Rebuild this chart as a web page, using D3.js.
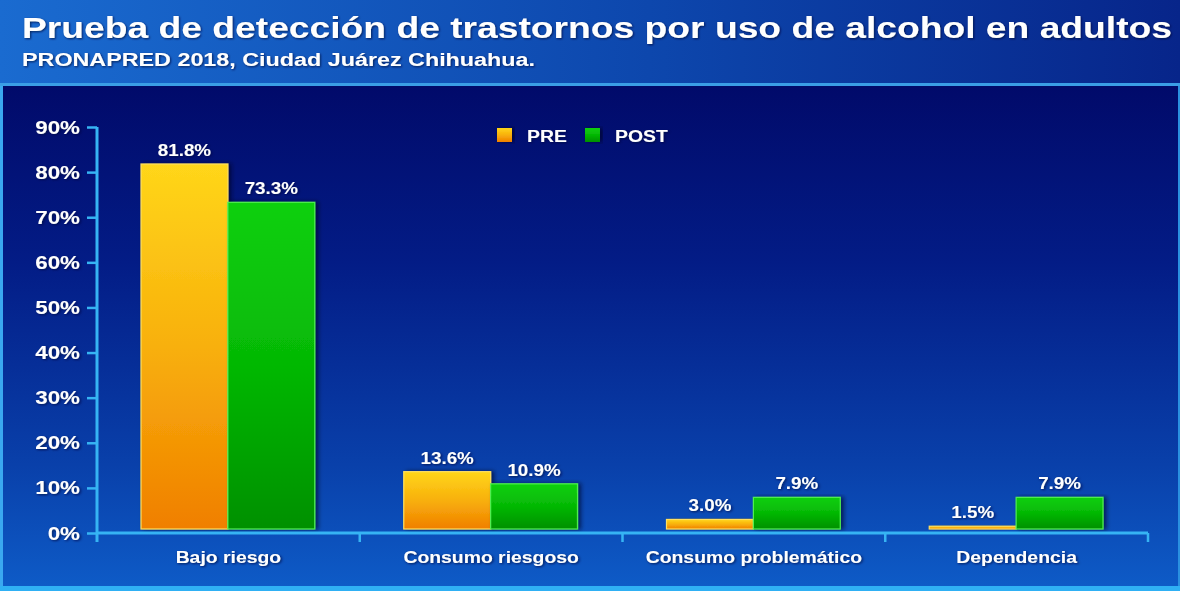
<!DOCTYPE html>
<html>
<head>
<meta charset="utf-8">
<script src="https://cdn.jsdelivr.net/npm/d3@7/dist/d3.min.js"></script>
<style>
  html, body { margin: 0; padding: 0; background: #0a2a90; }
  svg { display: block; font-family: "Liberation Sans", Arial, sans-serif; }
</style>
</head>
<body>
<svg id="chart" width="1180" height="591"></svg>
<script>
// Data
const categories = ["Bajo riesgo", "Consumo riesgoso", "Consumo problemático", "Dependencia"];
const seriesNames = ["PRE", "POST"];
const preValues = [0.818, 0.136, 0.030, 0.015];
const postValues = [0.733, 0.109, 0.079, 0.079];
const yTicks = [0, 0.1, 0.2, 0.3, 0.4, 0.5, 0.6, 0.7, 0.8, 0.9];

const titleText = "Prueba de detección de trastornos por uso de alcohol en adultos";
const subtitleText = "PRONAPRED 2018, Ciudad Juárez Chihuahua.";

const W = 1180, H = 591;
const labelStretch = 1.14;   // wide lettering used by all labels
const tickStretch = 1.28;
const svg = d3.select("#chart");
const defs = svg.append("defs");

// Gradients
function linGrad(id, x1, y1, x2, y2, stops) {
  const g = defs.append("linearGradient").attr("id", id)
    .attr("x1", x1).attr("y1", y1).attr("x2", x2).attr("y2", y2);
  stops.forEach(s => g.append("stop").attr("offset", s[0]).attr("stop-color", s[1]));
}
linGrad("hdr", "0", "0", "1", "0", [[0, "#1a6bd0"], [0.55, "#0d47ad"], [1, "#07258a"]]);
linGrad("panel", "0", "0", "0", "1", [[0, "#010a6a"], [0.35, "#031c86"], [0.75, "#0940aa"], [1, "#0e5cc8"]]);
linGrad("gPRE", "0", "0", "0", "1", [[0, "#ffd61a"], [0.5, "#f8b00c"], [1, "#f07f00"]]);
linGrad("gPOST", "0", "0", "0", "1", [[0, "#10d010"], [0.5, "#05b805"], [1, "#009000"]]);

const glow = defs.append("filter").attr("id", "glow").attr("x", "-10%").attr("y", "-30%").attr("width", "120%").attr("height", "160%");
glow.append("feDropShadow").attr("dx", 1).attr("dy", 1).attr("stdDeviation", 1.2).attr("flood-color", "#000a40").attr("flood-opacity", 0.8);

const shadow = defs.append("filter").attr("id", "barShadow").attr("x", "-10%").attr("y", "-10%").attr("width", "130%").attr("height", "120%");
shadow.append("feDropShadow").attr("dx", 3).attr("dy", 0).attr("stdDeviation", 2).attr("flood-color", "#000020").attr("flood-opacity", 0.6);

// Wide text helper: anchored at (x, y), stretched horizontally
function wideText(sel, x, y, sx, size, anchor, str) {
  return sel.append("text")
    .attr("transform", `translate(${x},${y}) scale(${sx},1)`)
    .attr("text-anchor", anchor)
    .attr("fill", "#ffffff").attr("font-size", size).attr("font-weight", "bold")
    .attr("filter", "url(#glow)")
    .text(str);
}

// Header band
svg.append("rect").attr("x", 0).attr("y", 0).attr("width", W).attr("height", 84).attr("fill", "url(#hdr)");
svg.append("rect").attr("x", 0).attr("y", 83).attr("width", W).attr("height", 3).attr("fill", "#3a9ee6");

// Plot panel
svg.append("rect").attr("x", 0).attr("y", 86).attr("width", W).attr("height", H - 86).attr("fill", "url(#panel)");
svg.append("rect").attr("x", 0).attr("y", 86).attr("width", 3).attr("height", H - 86).attr("fill", "#3aa8f0");
svg.append("rect").attr("x", W - 2).attr("y", 86).attr("width", 2).attr("height", H - 86).attr("fill", "#2a90e0");
svg.append("rect").attr("x", 0).attr("y", H - 5).attr("width", W).attr("height", 5).attr("fill", "#2fb0f4");

// Title
svg.append("text").attr("x", 22).attr("y", 38)
  .attr("fill", "#ffffff").attr("font-size", 29).attr("font-weight", "bold")
  .attr("filter", "url(#glow)")
  .attr("textLength", 1150).attr("lengthAdjust", "spacingAndGlyphs")
  .text(titleText);
svg.append("text").attr("x", 22).attr("y", 66)
  .attr("fill", "#ffffff").attr("font-size", 17.5).attr("font-weight", "bold")
  .attr("filter", "url(#glow)")
  .attr("textLength", 513).attr("lengthAdjust", "spacingAndGlyphs")
  .text(subtitleText);

// Scales
const plotLeft = 97, plotRight = 1148, y0 = 533, yTop = 127;
const y = d3.scaleLinear().domain([0, 0.9]).range([y0, yTop]);
const x0 = d3.scaleBand().domain(categories).range([plotLeft, plotRight]).padding(0);
const x1 = d3.scaleBand().domain(seriesNames).range([44, x0.bandwidth() - 45]).padding(0);

const rows = categories.map((c, i) => ({ cat: c, vals: [
  { key: "PRE", value: preValues[i] },
  { key: "POST", value: postValues[i] }
]}));

// Bars
const groups = svg.append("g").selectAll("g").data(rows).join("g")
  .attr("transform", d => `translate(${x0(d.cat)},0)`);

groups.selectAll("rect").data(d => d.vals).join("rect")
  .attr("x", d => x1(d.key))
  .attr("y", d => y(d.value))
  .attr("width", x1.bandwidth())
  .attr("height", d => y0 - 4 - y(d.value))
  .attr("fill", d => `url(#g${d.key})`)
  .attr("stroke", d => d.key === "PRE" ? "#ffe060" : "#50f050")
  .attr("stroke-width", 1.2)
  .attr("filter", "url(#barShadow)");

groups.each(function(d) {
  const g = d3.select(this);
  d.vals.forEach(v => {
    wideText(g, x1(v.key) + x1.bandwidth() / 2, y(v.value) - 8, labelStretch, 16.5, "middle",
      d3.format(".1%")(v.value));
  });
});

// Y axis
const axisColor = "#36b4f4";
const yAxis = svg.append("g").attr("transform", `translate(${plotLeft},0)`)
  .call(d3.axisLeft(y).tickValues(yTicks).tickFormat(d3.format(".0%")).tickSize(10).tickPadding(6));
yAxis.select(".domain").remove();
yAxis.append("line").attr("x1", 0).attr("x2", 0).attr("y1", yTop).attr("y2", y0 + 9)
  .attr("stroke", axisColor).attr("stroke-width", 3);
yAxis.selectAll(".tick line").attr("stroke", axisColor).attr("stroke-width", 2.5);
yAxis.selectAll(".tick text")
  .attr("x", null).attr("dy", null)
  .attr("transform", `translate(-17,6) scale(${tickStretch},1)`)
  .attr("fill", "#ffffff").attr("font-size", 17.5).attr("font-weight", "bold")
  .attr("font-family", "Liberation Sans, Arial, sans-serif").attr("filter", "url(#glow)");

// X axis
const xAxis = svg.append("g").attr("transform", `translate(0,${y0})`)
  .call(d3.axisBottom(x0).tickSize(0).tickPadding(17));
xAxis.select(".domain").remove();
xAxis.append("line").attr("x1", plotLeft).attr("x2", plotRight).attr("y1", 0).attr("y2", 0)
  .attr("stroke", axisColor).attr("stroke-width", 3);
xAxis.selectAll(".boundary").data(categories.slice(1).map(c => x0(c)).concat([plotRight]))
  .join("line").attr("class", "boundary")
  .attr("x1", d => d).attr("x2", d => d).attr("y1", 0).attr("y2", 9)
  .attr("stroke", axisColor).attr("stroke-width", 2.5);
xAxis.selectAll(".tick text")
  .attr("y", null).attr("dy", null)
  .attr("transform", `translate(0,30) scale(${labelStretch},1)`)
  .attr("fill", "#ffffff").attr("font-size", 17).attr("font-weight", "bold")
  .attr("font-family", "Liberation Sans, Arial, sans-serif").attr("filter", "url(#glow)");

// Legend
const legend = svg.append("g").attr("transform", "translate(497,128)");
const legendItems = legend.selectAll("g").data(seriesNames).join("g")
  .attr("transform", (d, i) => `translate(${i * 88},0)`);
legendItems.append("rect").attr("width", 15).attr("height", 14)
  .attr("fill", d => `url(#g${d})`).attr("filter", "url(#barShadow)");
legendItems.each(function(d) {
  wideText(d3.select(this), 30, 13.5, labelStretch, 17, "start", d);
});
</script>
</body>
</html>
